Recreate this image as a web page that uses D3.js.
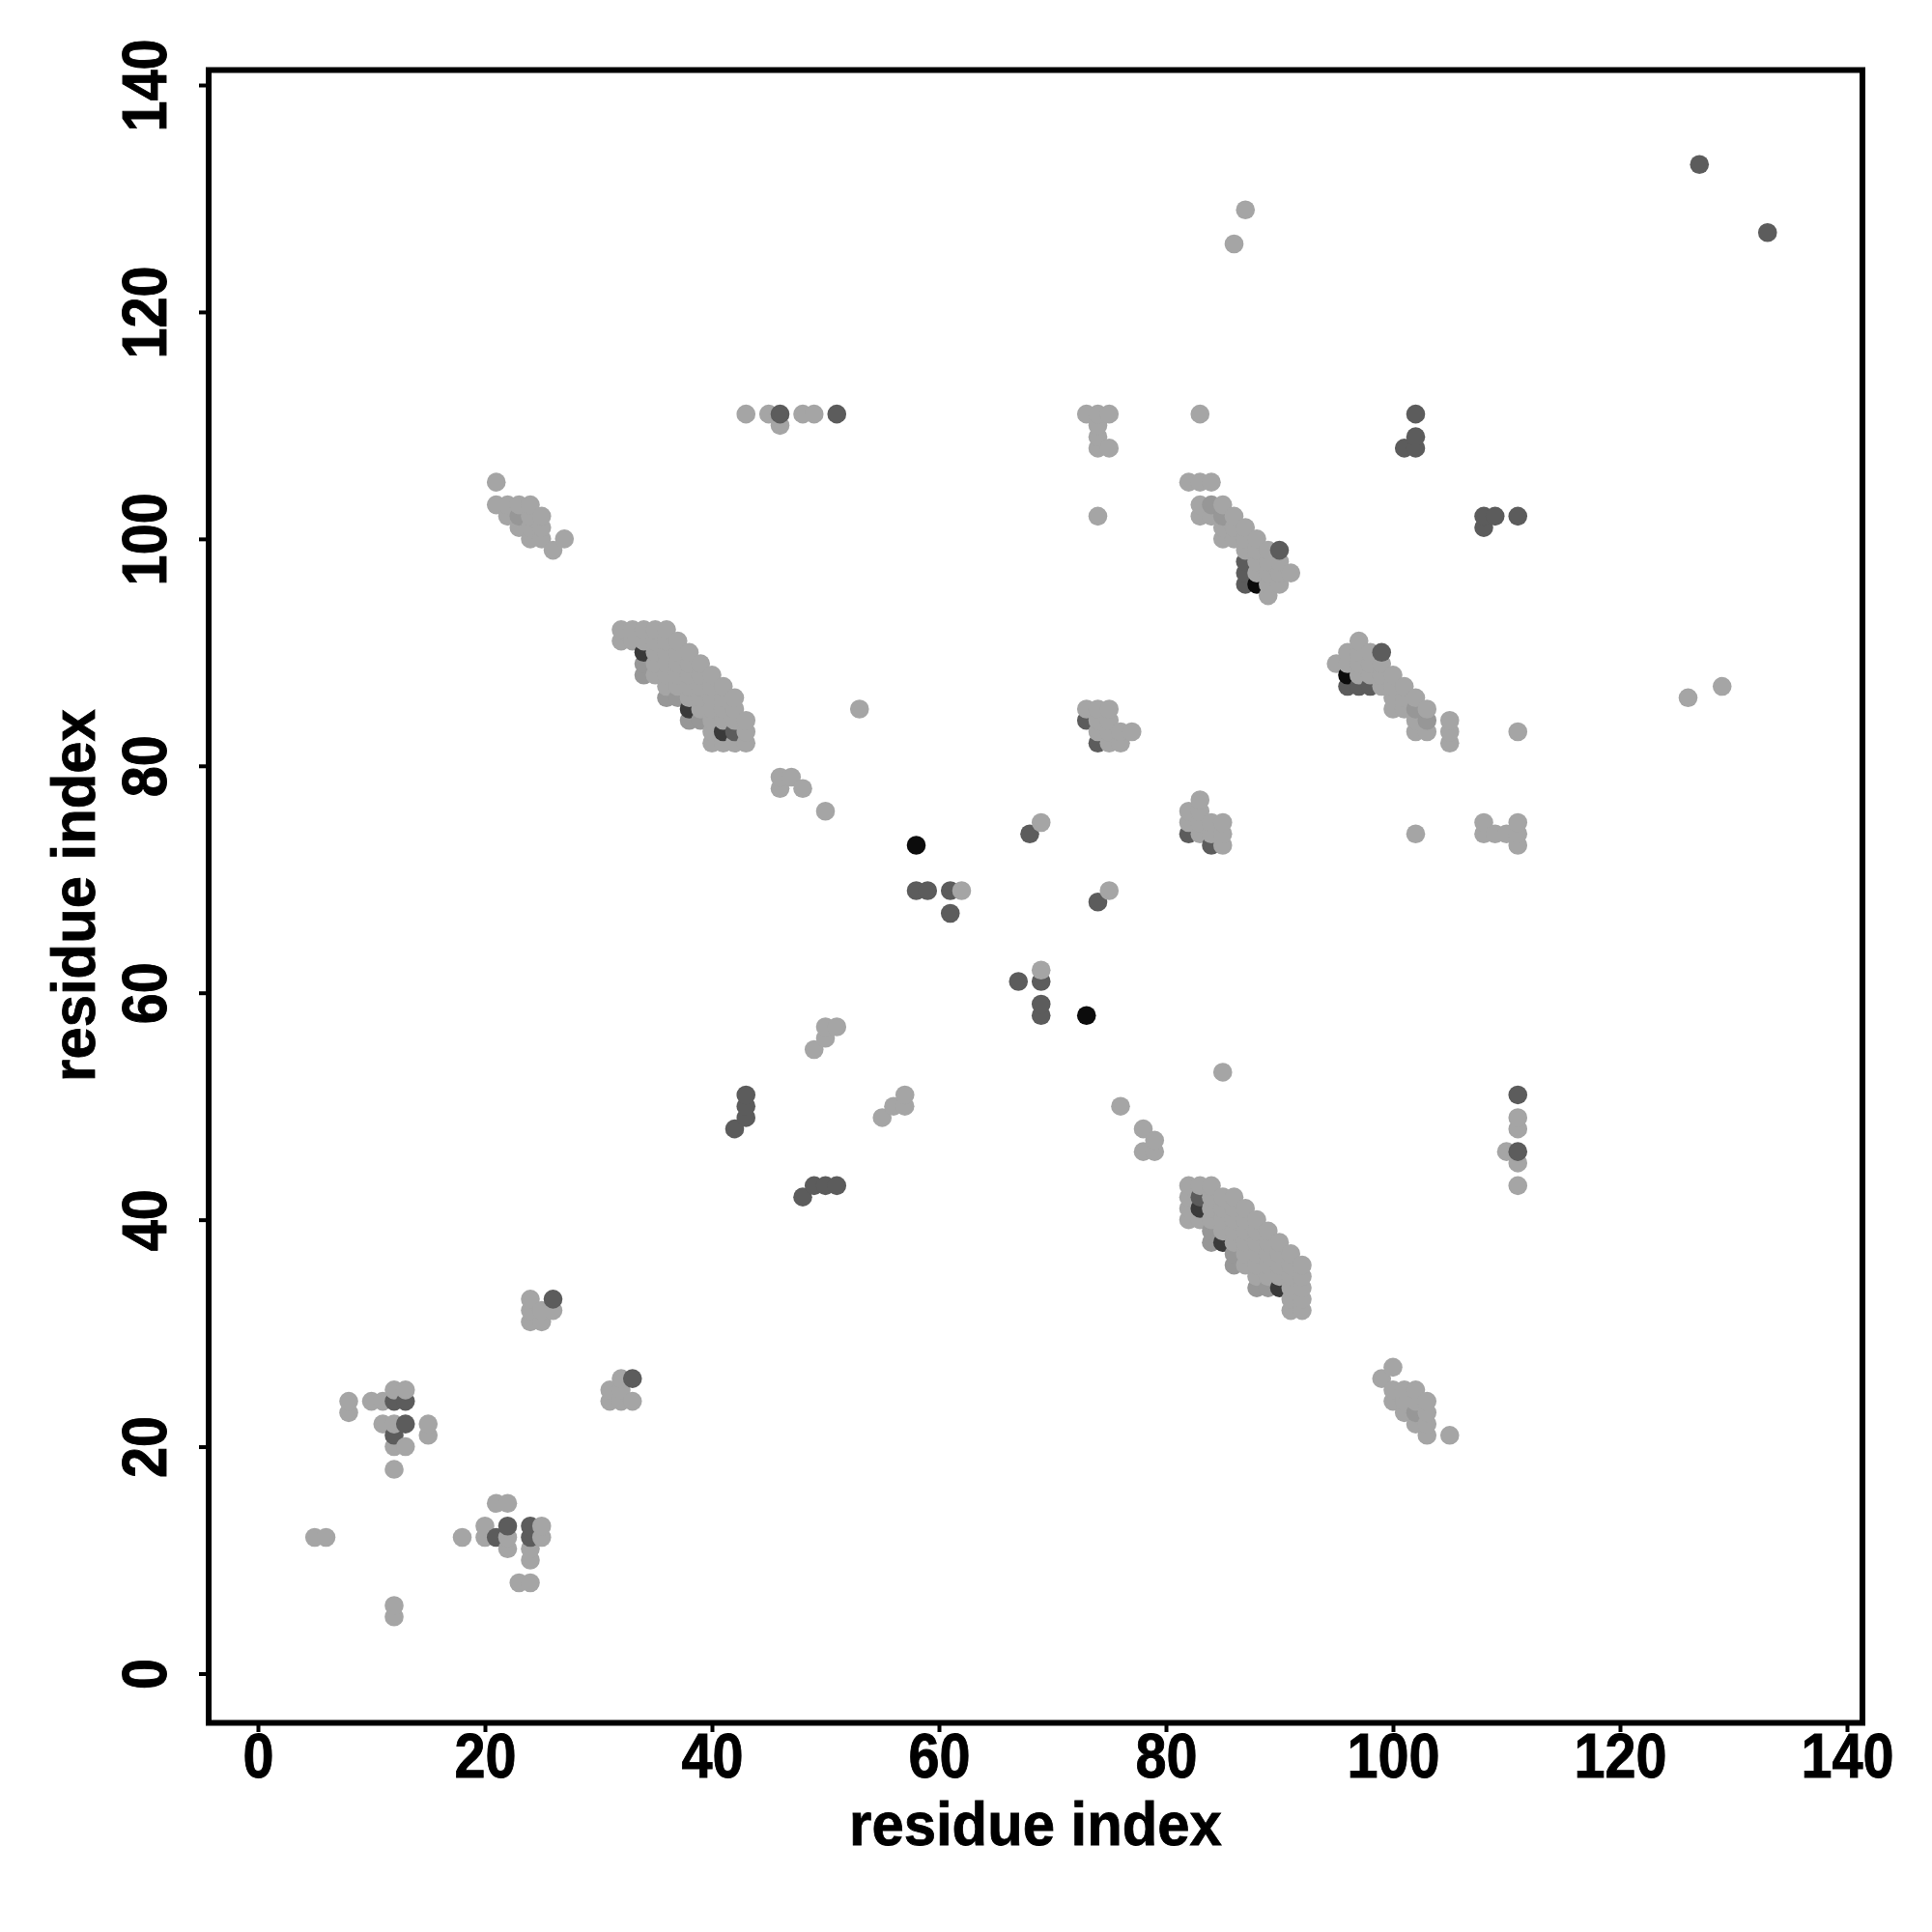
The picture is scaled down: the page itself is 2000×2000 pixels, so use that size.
<!DOCTYPE html>
<html>
<head>
<meta charset="utf-8">
<script src="https://cdn.jsdelivr.net/npm/d3@7"></script>
<style>html,body{margin:0;padding:0;background:#fff}svg{display:block}</style>
</head>
<body>
<script>
// Contact map: every list holds residue pairs [i, [j...]] with i < j; the map is symmetric.
const lightContacts = [
  [5,[12]],[6,[12]],[8,[23,24]],[10,[24]],[11,[22,24]],[12,[18,20,22,25]],[13,[20,25]],[15,[21,22]],
  [21,[103,105]],[22,[102,103]],[23,[101,103]],[24,[31,32,33,100,101,102,103]],[25,[31,32,100,101,102]],
  [26,[32,99]],[27,[100]],
  [32,[91,92]],[33,[91,92]],[34,[91,92]],[35,[88,89,90,91,92]],[36,[87,88,89,90,91,92]],[37,[87,88,89,90,91]],
  [38,[86,87,88,89,90]],[39,[85,86,87,88,89]],[40,[82,83,84,85,86,87,88]],[41,[82,84,85,86,87]],[42,[82,84,85,86]],
  [43,[82,83,84,111]],[45,[111]],[46,[78,79,110]],[47,[79]],[48,[78,111]],[49,[55,111]],[50,[56,57,76]],[51,[57]],[53,[85]],
  [62,[69]],[69,[75]],[73,[85,111]],[74,[83,84,85,102,108,109,110,111]],[75,[82,83,84,85,108,111]],[76,[82,83]],[77,[83]],
  [82,[105]],[83,[102,103,105,111]],[84,[102,105]],[85,[100,101,103]],[86,[100,101,102,126]],[87,[99,100,101,129]],
  [88,[97,98,99,100]],[89,[95,96,97,98,99]],[90,[96,97,98]],[91,[97]]
];
const midContacts = [[23,[102]],[34,[88,89]],[36,[86]],[37,[86]],[38,[84]],[39,[84]],[84,[103]],[85,[102]]];
const darkContacts = [
  [12,[21,24]],[13,[22,24]],[26,[33]],[42,[48,83]],[43,[49,50,51]],[46,[111]],[51,[111]],
  [58,[69]],[59,[69]],[61,[67,69]],[68,[74]],[73,[84]],[74,[82]],
  [87,[96,97,98]],[90,[99]],[101,[108]],[102,[108,109,111]],[127,[133]]
];
const darkerContacts = [[34,[90]],[38,[85]],[41,[83]]];
const blackContacts = [[58,[73]],[88,[96]]];

const xTicks = [0,20,40,60,80,100,120,140];
const yTicks = [0,20,40,60,80,100,120,140];
const axisTitle = "residue index";

const shades = new Map([
  [lightContacts,"#a5a5a5"],[midContacts,"#979797"],[darkContacts,"#5c5c5c"],
  [darkerContacts,"#3a3a3a"],[blackContacts,"#0c0c0c"]
]);

const points = [];
shades.forEach((colour, list) => {
  list.forEach(([i, js]) => js.forEach(j => {
    points.push({x:i, y:j, colour});
    points.push({x:j, y:i, colour});
  }));
});
points.sort((a,b) => d3.ascending(a.x,b.x) || d3.ascending(a.y,b.y));

const x = d3.scaleLinear().domain([0,140]).range([267,1912]);
const y = d3.scaleLinear().domain([0,140]).range([1732.5,88]);
const font = "'Liberation Sans', Arial, sans-serif";

const svg = d3.select("body").append("svg").attr("width",2000).attr("height",2000);

svg.append("g").selectAll("circle").data(points).join("circle")
  .attr("cx",d=>x(d.x)).attr("cy",d=>y(d.y)).attr("r",9.8).attr("fill",d=>d.colour);

svg.append("rect").attr("x",216).attr("y",72.5).attr("width",1712).attr("height",1711)
  .attr("fill","none").attr("stroke","#000").attr("stroke-width",6);

const gx = svg.append("g").attr("transform","translate(0,1786)")
  .call(d3.axisBottom(x).tickValues(xTicks).tickSize(7).tickPadding(3));
const gy = svg.append("g").attr("transform","translate(213,0)")
  .call(d3.axisLeft(y).tickValues(yTicks).tickSize(7));
[gx,gy].forEach(g => {
  g.select(".domain").remove();
  g.selectAll(".tick line").attr("stroke","#000").attr("stroke-width",4);
  g.selectAll("text").attr("fill","#000").attr("stroke","#000").attr("stroke-width",0.9)
    .attr("font-family",font).attr("font-weight","bold").attr("font-size",64);
});
gx.selectAll("text").attr("dy",null).attr("y",null)
  .attr("transform","translate(0,54) scale(0.9,1)");
gy.selectAll("text").attr("x",null).attr("dy",null).attr("text-anchor","middle")
  .attr("transform","translate(-41,0) rotate(-90) scale(0.9,1)");

svg.append("text").attr("transform","translate(1072,1910) scale(0.95,1)").attr("text-anchor","middle")
  .attr("stroke","#000").attr("stroke-width",0.8)
  .attr("font-family",font).attr("font-weight","bold").attr("font-size",63).text(axisTitle);
svg.append("text").attr("transform","translate(98,927) rotate(-90) scale(0.95,1)").attr("text-anchor","middle")
  .attr("stroke","#000").attr("stroke-width",0.8)
  .attr("font-family",font).attr("font-weight","bold").attr("font-size",63).text(axisTitle);
</script>
</body>
</html>
